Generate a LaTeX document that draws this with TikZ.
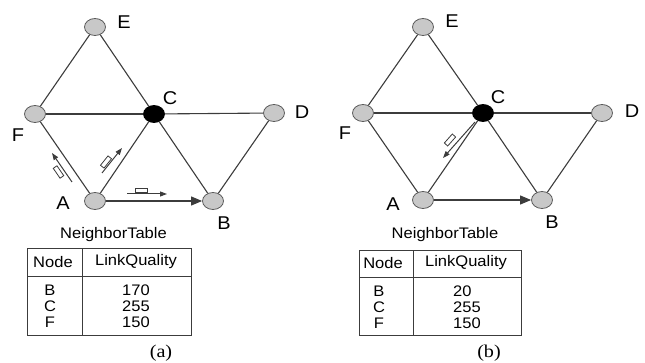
\documentclass[tikz,border=0pt]{standalone}
\usepackage{fontspec}
\setmainfont{Liberation Sans}[FakeStretch=1.08]
\newfontfamily\capfont{Liberation Serif}[FakeStretch=1.12]
\usetikzlibrary{arrows.meta,shapes.geometric}
\definecolor{edgec}{HTML}{3C3C3C}
\definecolor{nodefill}{HTML}{C8C8C8}
\definecolor{rimc}{HTML}{5A5A5A}
\begin{document}
\begin{tikzpicture}[x=1pt,y=-1pt,
  netnode/.style={ellipse, draw=rimc, fill=nodefill, line width=0.8pt, minimum width=21pt, minimum height=17pt, inner sep=0pt},
  hub/.style={netnode, fill=black, draw=black},
  link/.style={draw=edgec, line width=1.1pt},
  sendarrow/.style={link, -{Triangle[length=11pt,width=9pt]}},
  pktarrow/.style={draw=edgec, line width=1pt, -{Triangle[length=7pt,width=5pt]}},
  packet/.style={draw=edgec, fill=white, line width=0.8pt, minimum width=12pt, minimum height=4.5pt, inner sep=0pt},
  lbl/.style={font=\fontsize{18.5}{18.5}\selectfont, inner sep=0pt},
  tabtxt/.style={font=\fontsize{15.3}{15.3}\selectfont, inner sep=0pt},
  captxt/.style={font=\capfont\fontsize{18}{18}\selectfont, inner sep=0pt},
  tabline/.style={draw=edgec, line width=1pt}
]
\useasboundingbox (0,0) rectangle (645,363);

% ---------- panel (a) ----------
\node[netnode] (aE) at (95,27) {};
\node[hub]     (aC) at (154,114) {};
\node[netnode] (aF) at (35,114) {};
\node[netnode] (aD) at (274,113) {};
\node[netnode] (aA) at (95,201) {};
\node[netnode] (aB) at (213,201) {};
\draw[link] (aE) -- (aF);
\draw[link] (aE) -- (aC);
\draw[link] (aF) -- (aC);
\draw[link] (aC) -- (aD);
\draw[link] (aF) -- (aA);
\draw[link] (aA) -- (aC);
\draw[link] (aC) -- (aB);
\draw[link] (aD) -- (aB);
\draw[sendarrow] (aA) -- (aB);
\node[lbl] (aEl) at (124,22) {E};
\node[lbl] (aCl) at (170,98) {C};
\node[lbl] (aDl) at (302,112) {D};
\node[lbl] (aFl) at (18,135) {F};
\node[lbl] (aAl) at (63,203) {A};
\node[lbl] (aBl) at (224,223) {B};
% packets
\coordinate (af1) at (72,182); \coordinate (af2) at (52,153);
\draw[pktarrow] (af1) -- (af2);
\node[packet, rotate=124.6] (afp) at (58.5,172) {};
\coordinate (ac1) at (102,173); \coordinate (ac2) at (122,148);
\draw[pktarrow] (ac1) -- (ac2);
\node[packet, rotate=51.3] (acp) at (106,162) {};
\coordinate (ab1) at (127,194); \coordinate (ab2) at (167,194);
\draw[pktarrow] (ab1) -- (ab2);
\node[packet] (abp) at (141.5,190.5) {};
% table
\node[tabtxt] (atitle) at (113.5,235) {NeighborTable};
\draw[tabline] (27,249) rectangle (191,335);
\draw[tabline] (82,249) -- (82,335);
\draw[tabline] (27,277) -- (191,277);
\node[tabtxt] (ah1) at (53,262) {Node};
\node[tabtxt] (ah2) at (136,262) {LinkQuality};
\node[tabtxt] (ar1) at (50,290) {B};
\node[tabtxt] (ar2) at (50,306) {C};
\node[tabtxt] (ar3) at (50,322) {F};
\node[tabtxt] (av1) at (136,290) {170};
\node[tabtxt] (av2) at (136,306) {255};
\node[tabtxt] (av3) at (136,322) {150};
\node[captxt] (acap) at (161,353) {(a)};

% ---------- panel (b) ----------
\node[netnode] (bE) at (423,27) {};
\node[hub]     (bC) at (483,113) {};
\node[netnode] (bF) at (363,113) {};
\node[netnode] (bD) at (602,113) {};
\node[netnode] (bA) at (423,200) {};
\node[netnode] (bB) at (542,200) {};
\draw[link] (bE) -- (bF);
\draw[link] (bE) -- (bC);
\draw[link] (bF) -- (bC);
\draw[link] (bC) -- (bD);
\draw[link] (bF) -- (bA);
\draw[link] (bA) -- (bC);
\draw[link] (bC) -- (bB);
\draw[link] (bD) -- (bB);
\draw[sendarrow] (bA) -- (bB);
\node[lbl] (bEl) at (452,21) {E};
\node[lbl] (bCl) at (498,97) {C};
\node[lbl] (bDl) at (632,111) {D};
\node[lbl] (bFl) at (345,133) {F};
\node[lbl] (bAl) at (393,204) {A};
\node[lbl] (bBl) at (552,222) {B};
% packet
\coordinate (bc1) at (475,122); \coordinate (bc2) at (443,158);
\draw[pktarrow] (bc1) -- (bc2);
\node[packet, rotate=48.4] (bcp) at (450,140) {};
% table
\node[tabtxt] (btitle) at (445,235) {NeighborTable};
\draw[tabline] (359,251) rectangle (521,335);
\draw[tabline] (413,251) -- (413,335);
\draw[tabline] (359,278) -- (521,278);
\node[tabtxt] (bh1) at (383,263) {Node};
\node[tabtxt] (bh2) at (466,263) {LinkQuality};
\node[tabtxt] (br1) at (379,291) {B};
\node[tabtxt] (br2) at (379,307) {C};
\node[tabtxt] (br3) at (379,323) {F};
\node[tabtxt, anchor=west] (bv1) at (453,291) {20};
\node[tabtxt, anchor=west] (bv2) at (453,307) {255};
\node[tabtxt, anchor=west] (bv3) at (453,323) {150};
\node[captxt] (bcap) at (489,353) {(b)};
\end{tikzpicture}
\end{document}
